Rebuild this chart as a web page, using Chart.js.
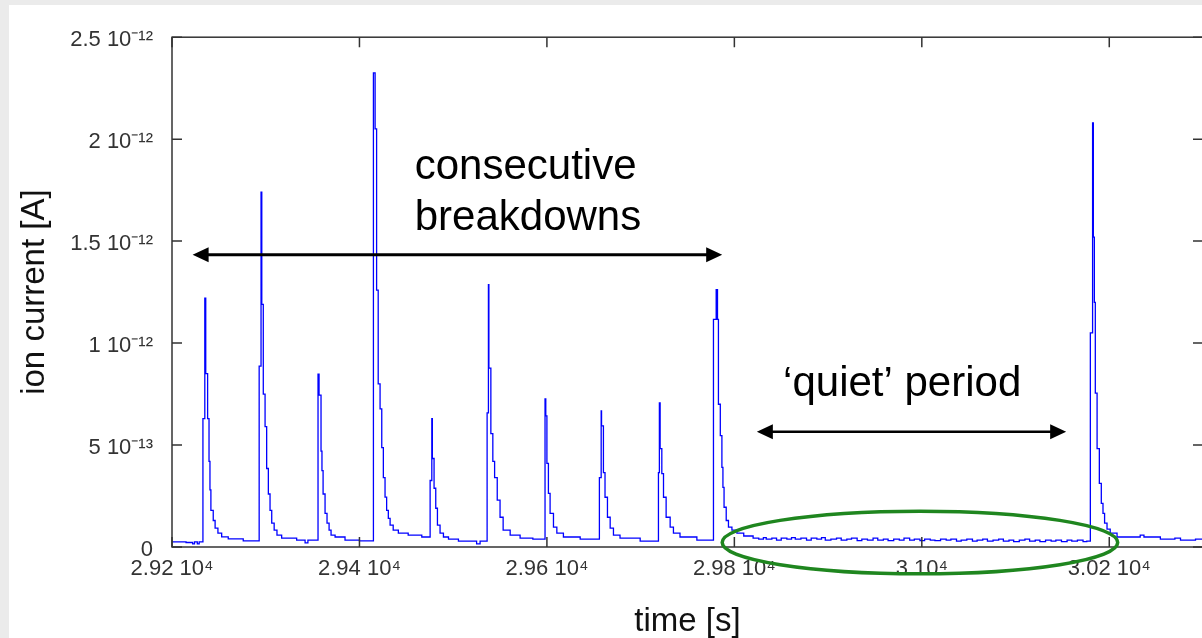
<!DOCTYPE html>
<html lang="en">
<head>
<meta charset="UTF-8">
<title>Ion current vs time</title>
<script src="https://cdn.jsdelivr.net/npm/chart.js"></script>
<style>
  html, body { margin: 0; padding: 0; overflow: hidden; background: #ebebeb; }
  .panel { position: absolute; left: 9px; top: 5px; width: 1206px; height: 633px; background: #fff; }
  canvas { display: block; }
</style>
</head>
<body>
<div class="panel"><canvas id="ionChart" width="1206" height="633"></canvas></div>
<script>
// time in seconds, current in units of 1e-12 A (each value holds until the next sample)
const timeS = [
  29200, 29215, 29222, 29224, 29227, 29229,
  29233, 29235, 29236, 29238, 29239.5, 29240.5, 29241.5, 29244, 29246, 29249, 29253, 29260, 29276,
  29293, 29295, 29295.8, 29297.4, 29299.3, 29301, 29302.8, 29304.6, 29306.4, 29309, 29312, 29317, 29333, 29342, 29345,
  29355.8, 29356.9, 29359, 29360, 29361.2, 29363.3, 29365.4, 29367.6, 29369.7, 29374, 29384.6, 29400,
  29414.9, 29416.7, 29418.3, 29420, 29422, 29423.8, 29425.5, 29427.3, 29429, 29430.8, 29432.7, 29436, 29441.5, 29452, 29466.5,
  29475.4, 29477.2, 29477.8, 29479.6, 29481.4, 29483.2, 29486, 29489.6, 29495, 29505.6, 29525, 29528.7,
  29536.2, 29537.6, 29538.1, 29540.2, 29542.3, 29544.2, 29547, 29550, 29553.3, 29560.8, 29571.4, 29585,
  29598, 29598.8, 29600, 29601.6, 29603.4, 29607, 29610.6, 29617.6, 29635.5,
  29656, 29657.9, 29658.3, 29660.3, 29662, 29664.6, 29667.5, 29671, 29678, 29699.5,
  29719, 29720, 29720.8, 29722.6, 29724.4, 29727.2, 29731.5, 29735, 29742, 29760,
  29777.7, 29780.6, 29782, 29783, 29785, 29786.7, 29787.8, 29789, 29791.3, 29793.7, 29797.4, 29802.7, 29810, 29820,
  29826, 29831, 29834, 29840, 29845, 29850, 29856, 29861, 29865, 29871, 29877, 29882, 29888, 29893, 29897, 29903,
  29909, 29914, 29920, 29925, 29931, 29936, 29942, 29948, 29953, 29959, 29964, 29970, 29976, 29981, 29987, 29992,
  29998, 30003, 30009, 30014, 30020, 30026, 30031, 30037, 30042, 30048, 30054, 30059, 30065, 30070, 30076, 30082,
  30087, 30093, 30098, 30104, 30110, 30115, 30121, 30126, 30132, 30138, 30143, 30149, 30155, 30160, 30166, 30172, 30176,
  30179.8, 30182.2, 30183, 30184.1, 30185.1, 30187, 30189.4, 30191.5, 30193.3, 30195, 30197.6, 30201, 30208.3,
  30233, 30237, 30254.5, 30270, 30276, 30292, 30300
];
const currentPA = [
  0.025, 0.022, 0.015, 0.025, 0.015, 0.025,
  0.63, 1.22, 0.85, 0.63, 0.42, 0.28, 0.18, 0.13, 0.093, 0.068, 0.05, 0.04, 0.03,
  0.887, 1.74, 1.19, 0.75, 0.59, 0.385, 0.26, 0.18, 0.117, 0.083, 0.058, 0.044, 0.034, 0.02, 0.034,
  0.848, 0.745, 0.47, 0.375, 0.26, 0.165, 0.117, 0.083, 0.058, 0.049, 0.034, 0.03,
  2.325, 2.05, 1.26, 0.8, 0.677, 0.487, 0.34, 0.245, 0.18, 0.14, 0.107, 0.083, 0.068, 0.058, 0.049,
  0.326, 0.629, 0.434, 0.288, 0.19, 0.107, 0.068, 0.049, 0.039, 0.029, 0.015, 0.029,
  0.658, 1.287, 0.877, 0.556, 0.42, 0.34, 0.23, 0.146, 0.083, 0.058, 0.044, 0.039,
  0.726, 0.643, 0.41, 0.263, 0.165, 0.097, 0.068, 0.049, 0.039,
  0.34, 0.667, 0.594, 0.365, 0.244, 0.146, 0.093, 0.058, 0.044, 0.029,
  0.365, 0.707, 0.482, 0.36, 0.244, 0.146, 0.097, 0.068, 0.049, 0.034,
  1.116, 1.262, 1.116, 0.70, 0.546, 0.39, 0.292, 0.195, 0.13, 0.097, 0.083, 0.068, 0.054, 0.044,
  0.039, 0.046, 0.039, 0.044, 0.034, 0.044, 0.039, 0.046, 0.039, 0.044, 0.034, 0.044, 0.039, 0.046, 0.034, 0.039,
  0.044, 0.034, 0.039, 0.044, 0.031, 0.039, 0.034, 0.044, 0.034, 0.039, 0.031, 0.039, 0.034, 0.044, 0.034, 0.039,
  0.031, 0.039, 0.034, 0.031, 0.039, 0.034, 0.039, 0.029, 0.034, 0.039, 0.029, 0.034, 0.039, 0.029, 0.034, 0.039,
  0.029, 0.034, 0.026, 0.034, 0.039, 0.029, 0.034, 0.026, 0.034, 0.029, 0.034, 0.026, 0.034, 0.029, 0.034, 0.026, 0.029,
  1.05, 2.08, 1.52, 1.2, 0.755, 0.482, 0.312, 0.214, 0.165, 0.117, 0.088, 0.068, 0.049,
  0.058, 0.049, 0.039, 0.044, 0.034, 0.039, 0.039
];

const xTickValues = [29200, 29400, 29600, 29800, 30000, 30200];
const xTickLabels = ['2.92 10⁴', '2.94 10⁴', '2.96 10⁴', '2.98 10⁴', '3 10⁴', '3.02 10⁴'];
const yTickValues = [0, 0.5, 1, 1.5, 2, 2.5];
const yTickLabels = ['0', '5 10⁻¹³', '1 10⁻¹²', '1.5 10⁻¹²', '2 10⁻¹²', '2.5 10⁻¹²'];

// annotations, in data units (s, 1e-12 A)
const burstArrow = { from: 29222, to: 29787, y: 1.433 };
const quietArrow = { from: 29824, to: 30154, y: 0.565 };
const quietEllipse = { x: 29998, y: 0.022, rx: 211, ry: 0.1535 };
const burstText = [{ text: 'consecutive', x: 29459, y: 1.803 }, { text: 'breakdowns', x: 29459, y: 1.555 }];
const quietText = { text: '‘quiet’ period', x: 29852, y: 0.741 };

const FONT = '"Liberation Sans", Arial, sans-serif';

const frameTicks = {
  id: 'frameTicks',
  afterDraw(chart) {
    const { ctx, chartArea: a, scales: { x, y } } = chart;
    ctx.save();
    ctx.strokeStyle = '#333';
    ctx.lineWidth = 1.5;
    ctx.strokeRect(a.left, a.top, a.right - a.left, a.bottom - a.top);
    ctx.beginPath();
    xTickValues.forEach(v => {
      const px = x.getPixelForValue(v);
      ctx.moveTo(px, a.bottom); ctx.lineTo(px, a.bottom - 10);
      ctx.moveTo(px, a.top); ctx.lineTo(px, a.top + 10);
    });
    yTickValues.forEach(v => {
      const py = y.getPixelForValue(v);
      ctx.moveTo(a.left, py); ctx.lineTo(a.left + 10, py);
      ctx.moveTo(a.right, py); ctx.lineTo(a.right - 10, py);
    });
    ctx.stroke();
    ctx.restore();
  }
};

function drawArrow(ctx, x1, x2, y, lw, len, half) {
  ctx.lineWidth = lw;
  ctx.beginPath();
  ctx.moveTo(x1 + len - 2, y);
  ctx.lineTo(x2 - len + 2, y);
  ctx.stroke();
  ctx.beginPath();
  ctx.moveTo(x1, y); ctx.lineTo(x1 + len, y - half); ctx.lineTo(x1 + len, y + half); ctx.closePath();
  ctx.moveTo(x2, y); ctx.lineTo(x2 - len, y - half); ctx.lineTo(x2 - len, y + half); ctx.closePath();
  ctx.fill();
}

const notes = {
  id: 'notes',
  afterDraw(chart) {
    const { ctx, scales: { x, y } } = chart;
    ctx.save();
    ctx.strokeStyle = '#000';
    ctx.fillStyle = '#000';
    drawArrow(ctx, x.getPixelForValue(burstArrow.from), x.getPixelForValue(burstArrow.to),
      y.getPixelForValue(burstArrow.y), 3, 16, 7.5);
    drawArrow(ctx, x.getPixelForValue(quietArrow.from), x.getPixelForValue(quietArrow.to),
      y.getPixelForValue(quietArrow.y), 2.5, 16, 7.5);

    ctx.font = '42px ' + FONT;
    ctx.textAlign = 'left';
    ctx.textBaseline = 'alphabetic';
    burstText.forEach(t => ctx.fillText(t.text, x.getPixelForValue(t.x), y.getPixelForValue(t.y)));
    ctx.fillText(quietText.text, x.getPixelForValue(quietText.x), y.getPixelForValue(quietText.y));

    const cx = x.getPixelForValue(quietEllipse.x);
    const cy = y.getPixelForValue(quietEllipse.y);
    const rx = x.getPixelForValue(quietEllipse.x + quietEllipse.rx) - cx;
    const ry = cy - y.getPixelForValue(quietEllipse.y + quietEllipse.ry);
    ctx.strokeStyle = '#1f861f';
    ctx.lineWidth = 3.5;
    ctx.beginPath();
    ctx.ellipse(cx, cy, rx, ry, 0, 0, Math.PI * 2);
    ctx.stroke();
    ctx.restore();
  }
};

const points = timeS.map((t, i) => ({ x: t, y: currentPA[i] }));

new Chart(document.getElementById('ionChart'), {
  type: 'line',
  data: {
    datasets: [{
      data: points,
      borderColor: '#0000ff',
      borderWidth: 1.3,
      pointRadius: 0,
      stepped: true,
      fill: false
    }]
  },
  options: {
    responsive: false,
    animation: false,
    devicePixelRatio: 1,
    layout: { padding: { left: 0, top: 29, right: 12, bottom: 0 } },
    plugins: { legend: { display: false }, tooltip: { enabled: false } },
    scales: {
      x: {
        type: 'linear',
        min: 29200,
        max: 30300,
        afterBuildTicks: s => { s.ticks = xTickValues.map(v => ({ value: v })); },
        afterFit: s => { s.height = 91; },
        grid: { display: false, drawTicks: false },
        border: { display: false },
        ticks: {
          callback: (v, i) => xTickLabels[i],
          font: { family: FONT, size: 22 },
          color: '#333',
          padding: 9,
          maxRotation: 0,
          autoSkip: false
        },
        title: {
          display: true,
          text: 'time [s]',
          font: { family: FONT, size: 33, lineHeight: 1 },
          color: '#111',
          padding: { top: 0, bottom: 0 }
        }
      },
      y: {
        min: 0,
        max: 2.5,
        afterBuildTicks: s => { s.ticks = yTickValues.map(v => ({ value: v })); },
        afterFit: s => { s.width = 163; },
        grid: { display: false, drawTicks: false },
        border: { display: false },
        ticks: {
          callback: (v, i) => yTickLabels[i],
          font: { family: FONT, size: 22 },
          color: '#333',
          padding: 19,
          labelOffset: 3,
          autoSkip: false
        },
        title: {
          display: true,
          text: 'ion current [A]',
          font: { family: FONT, size: 33, lineHeight: 1 },
          color: '#111',
          padding: { top: 9, bottom: 0 }
        }
      }
    }
  },
  plugins: [frameTicks, notes]
});
</script>
</body>
</html>
